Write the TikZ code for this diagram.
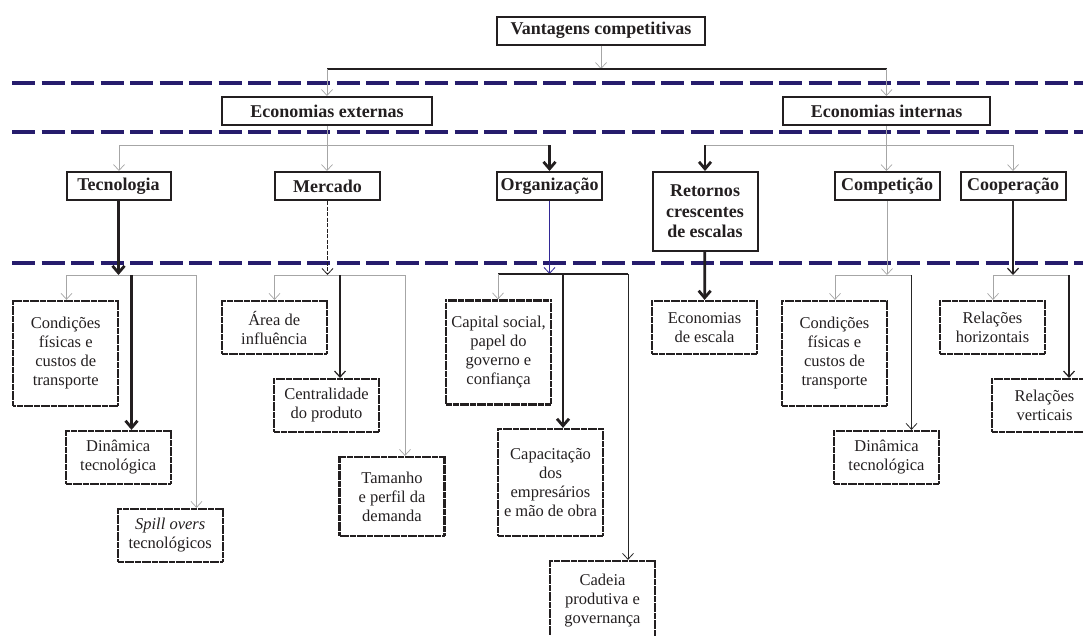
\documentclass[tikz,border=0pt]{standalone}
\usepackage{fontspec}
\setmainfont{Liberation Serif}
\usetikzlibrary{arrows.meta}
\definecolor{navy}{RGB}{38,28,108}
\definecolor{ink}{RGB}{35,31,32}
\definecolor{orgblue}{RGB}{50,40,150}
\begin{document}
\begin{tikzpicture}[x=1pt,y=-1pt,
  hbox/.style={draw=ink, line width=2pt, font=\fontsize{18}{20.5}\selectfont\bfseries, text=ink, align=center, inner sep=1pt, minimum height=28pt},
  leaf/.style={draw=ink, line width=2.2pt, dash pattern=on 3pt off 0.4pt, font=\fontsize{16.5}{19}\selectfont, text=ink, align=center, minimum width=105pt, inner sep=1pt},
  sep/.style={draw=navy, line width=4pt, dash pattern=on 23pt off 6.5pt},
  thinln/.style={draw=gray!70, line width=0.7pt},
  thinar/.style={thinln, -{Straight Barb[length=6pt,width=11pt]}},
  darkar/.style={draw=gray!30!black, line width=0.8pt, -{Straight Barb[length=6pt,width=11pt]}},
  heavy/.style={draw=ink, line width=2.8pt},
  heavyar/.style={heavy, -{Straight Barb[length=7pt,width=12pt]}},
  midln/.style={draw=ink, line width=1.2pt},
  midar/.style={midln, -{Straight Barb[length=6pt,width=11pt]}},
  dashar/.style={draw=ink, line width=0.8pt, dash pattern=on 4pt off 1.5pt, -{Straight Barb[length=6pt,width=11pt]}},
  bluear/.style={draw=orgblue, line width=0.8pt, -{Straight Barb[length=6pt,width=11pt]}}
]
\useasboundingbox (0,0) rectangle (1083,635);

% separators
\draw[sep] (12,83) -- (1083,83);
\draw[sep] (12,132) -- (1083,132);
\draw[sep] (12,263) -- (1083,263);

% level coordinates
\coordinate (y0) at (0,69);
\coordinate (y1) at (0,145);
\coordinate (y3) at (0,275);
\coordinate (y3o) at (0,274);

% header nodes
\node[hbox, minimum width=208pt] (vant) at (601,30.5) {Vantagens competitivas};
\node[hbox, minimum width=210pt] (ext) at (327,111) {Economias externas};
\node[hbox, minimum width=207pt] (int) at (886.5,111) {Economias internas};
\node[hbox, minimum width=104pt] (tec) at (118.5,186) {Tecnologia};
\node[hbox, minimum width=105pt] (merc) at (327.5,186) {Mercado};
\node[hbox, minimum width=105pt] (org) at (549.5,186) {Organização};
\node[hbox, minimum width=105pt, minimum height=79pt] (ret) at (705,211.5) {Retornos\\crescentes\\de escalas};
\node[hbox, minimum width=105pt] (comp) at (887,186) {Competição};
\node[hbox, minimum width=105pt] (coop) at (1013,186) {Cooperação};

% leaf nodes
\node[leaf, minimum height=105pt] (cond1) at (65.8,353.4) {Condições\\físicas e\\custos de\\transporte};
\node[leaf, minimum height=53pt] (din1) at (118.2,457.5) {Dinâmica\\tecnológica};
\node[leaf, minimum height=53pt] (spill) at (170.2,535.5) {\textit{Spill overs}\\tecnológicos};
\node[leaf, minimum height=53pt] (area) at (274.2,327.5) {Área de\\influência};
\node[leaf, minimum height=53pt] (central) at (326.5,405.5) {Centralidade\\do produto};
\node[leaf, minimum height=79pt] (tam) at (392,496.5) {Tamanho\\e perfil da\\demanda};
\node[leaf, minimum height=104pt] (capital) at (498.5,352.5) {Capital social,\\papel do\\governo e\\confiança};
\node[leaf, minimum height=107pt] (capac) at (550.5,482.5) {Capacitação\\dos\\empresários\\e mão de obra};
\node[leaf, minimum height=79pt] (cadeia) at (602.5,600.5) {Cadeia\\produtiva e\\governança};
\node[leaf, minimum height=53pt] (econesc) at (704.5,327.5) {Economias\\de escala};
\node[leaf, minimum height=105pt] (cond2) at (834.5,353.5) {Condições\\físicas e\\custos de\\transporte};
\node[leaf, minimum height=53pt] (din2) at (886.5,457.5) {Dinâmica\\tecnológica};
\node[leaf, minimum height=53pt] (relh) at (992.5,327.5) {Relações\\horizontais};
\node[leaf, minimum height=53pt] (relv) at (1044.5,405.5) {Relações\\verticais};

% top level
\coordinate (b0) at (vant.south |- y0);
\coordinate (b0l) at (ext.north |- y0);
\coordinate (b0r) at (int.north |- y0);
\draw[thinar] (vant) -- (b0);
\draw[draw=ink, line width=1.8pt] (b0l) -- (b0r);
\draw[thinar] (b0l) -- (ext);
\draw[thinar] (b0r) -- (int);

% economias externas
\coordinate (e1) at (119,145);
\coordinate (e2) at (ext.south |- y1);
\coordinate (e3) at (org.north |- y1);
\draw[thinln] (ext) -- (e2);
\draw[thinln] (e1) -- (e3);
\draw[thinar] (e1) -- (e1 |- tec.north);
\draw[thinar] (e2) -- (e2 |- merc.north);
\draw[heavyar] (e3) -- (org);

% economias internas
\coordinate (i1) at (ret.north |- y1);
\coordinate (i2) at (int.south |- y1);
\coordinate (i3) at (coop.north |- y1);
\draw[thinln] (int) -- (i2);
\draw[thinln] (i1) -- (i3);
\draw[heavyar] (i1) -- (ret);
\draw[thinar] (i2) -- (i2 |- comp.north);
\draw[thinar] (i3) -- (coop);

% tecnologia
\coordinate (t1) at (66.5,275);
\coordinate (t2) at (131.5,275);
\coordinate (t3) at (196.5,275);
\draw[heavyar] (tec) -- (tec.south |- y3);
\draw[thinln] (t1) -- (t3);
\draw[thinar] (t1) -- (t1 |- cond1.north);
\draw[heavyar] (t2) -- (t2 |- din1.north);
\draw[thinar] (t3) -- (t3 |- spill.north);

% mercado
\coordinate (m1) at (274.5,275);
\coordinate (m2) at (340,275);
\coordinate (m3) at (405,275);
\draw[dashar] (merc) -- (merc.south |- y3);
\draw[thinln] (m1) -- (m3);
\draw[thinar] (m1) -- (m1 |- area.north);
\draw[midar] (m2) -- (m2 |- central.north);
\draw[thinar] (m3) -- (m3 |- tam.north);

% organizacao
\coordinate (o1) at (498,274);
\coordinate (o2) at (563,274);
\coordinate (o3) at (628,274);
\draw[bluear] (org) -- (org.south |- y3o);
\draw[heavy] (o1) -- (o3);
\draw[thinar] (o1) -- (o1 |- capital.north);
\draw[heavyar] (o2) -- (o2 |- capac.north);
\draw[darkar] (o3) -- (o3 |- cadeia.north);

% retornos
\draw[heavyar] (ret) -- (econesc);

% competicao
\coordinate (c1) at (835,275);
\coordinate (c2) at (911.5,275);
\draw[thinar] (comp) -- (comp.south |- y3);
\draw[thinln] (c1) -- (c2);
\draw[thinar] (c1) -- (c1 |- cond2.north);
\draw[darkar] (c2) -- (c2 |- din2.north);

% cooperacao
\coordinate (k1) at (993,275);
\coordinate (k2) at (1069,275);
\draw[midar] (coop) -- (coop.south |- y3);
\draw[thinln] (k1) -- (k2);
\draw[thinar] (k1) -- (k1 |- relh.north);
\draw[midar] (k2) -- (k2 |- relv.north);
\end{tikzpicture}
\end{document}
